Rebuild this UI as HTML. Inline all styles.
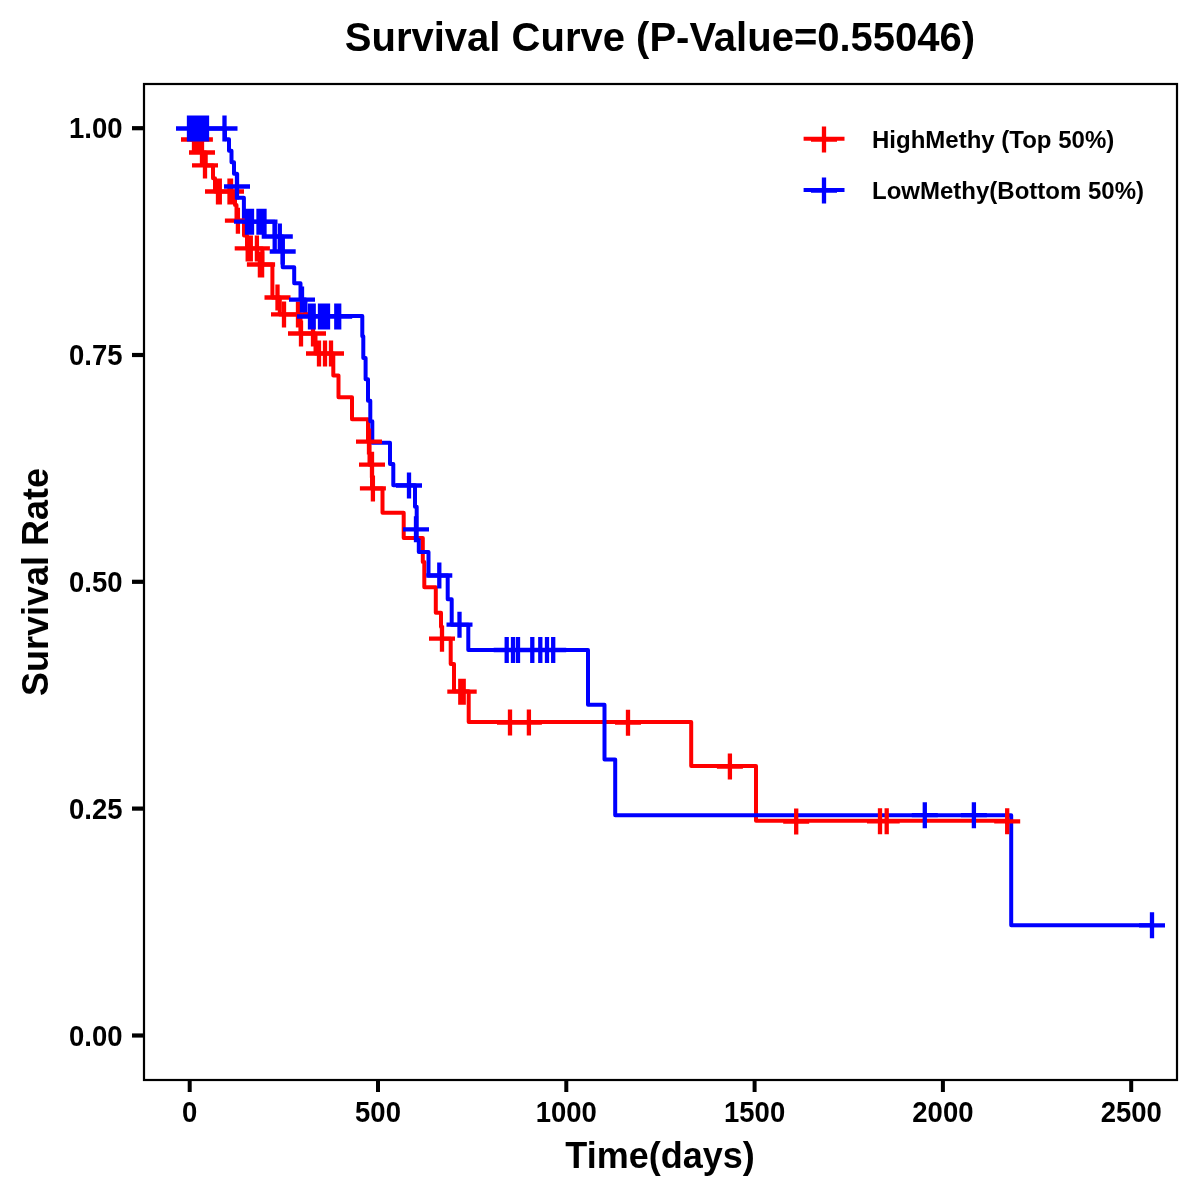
<!DOCTYPE html>
<html><head><meta charset="utf-8"><style>
html,body{margin:0;padding:0;background:#fff;width:1200px;height:1200px;overflow:hidden}
svg{display:block;will-change:transform}
text{font-family:"Liberation Sans", sans-serif;fill:#000}
</style></head><body>
<svg width="1200" height="1200" viewBox="0 0 1200 1200">
<rect width="1200" height="1200" fill="#fff"/>
<rect x="144" y="84" width="1033" height="996" fill="none" stroke="#000" stroke-width="2.2"/>
<line x1="132" y1="128.2" x2="144" y2="128.2" stroke="#000" stroke-width="4.2"/>
<text transform="translate(122.5,138.2) scale(1,1.065)" x="0" y="0" text-anchor="end" font-size="27.5" font-weight="bold">1.00</text>
<line x1="132" y1="355.0" x2="144" y2="355.0" stroke="#000" stroke-width="4.2"/>
<text transform="translate(122.5,365.0) scale(1,1.065)" x="0" y="0" text-anchor="end" font-size="27.5" font-weight="bold">0.75</text>
<line x1="132" y1="581.8" x2="144" y2="581.8" stroke="#000" stroke-width="4.2"/>
<text transform="translate(122.5,591.8) scale(1,1.065)" x="0" y="0" text-anchor="end" font-size="27.5" font-weight="bold">0.50</text>
<line x1="132" y1="808.6" x2="144" y2="808.6" stroke="#000" stroke-width="4.2"/>
<text transform="translate(122.5,818.6) scale(1,1.065)" x="0" y="0" text-anchor="end" font-size="27.5" font-weight="bold">0.25</text>
<line x1="132" y1="1035.5" x2="144" y2="1035.5" stroke="#000" stroke-width="4.2"/>
<text transform="translate(122.5,1045.5) scale(1,1.065)" x="0" y="0" text-anchor="end" font-size="27.5" font-weight="bold">0.00</text>
<line x1="189.7" y1="1080" x2="189.7" y2="1092" stroke="#000" stroke-width="4"/>
<text transform="translate(189.7,1121.8) scale(1,1.065)" x="0" y="0" text-anchor="middle" font-size="27.5" font-weight="bold">0</text>
<line x1="378.0" y1="1080" x2="378.0" y2="1092" stroke="#000" stroke-width="4"/>
<text transform="translate(378.0,1121.8) scale(1,1.065)" x="0" y="0" text-anchor="middle" font-size="27.5" font-weight="bold">500</text>
<line x1="566.3" y1="1080" x2="566.3" y2="1092" stroke="#000" stroke-width="4"/>
<text transform="translate(566.3,1121.8) scale(1,1.065)" x="0" y="0" text-anchor="middle" font-size="27.5" font-weight="bold">1000</text>
<line x1="754.6" y1="1080" x2="754.6" y2="1092" stroke="#000" stroke-width="4"/>
<text transform="translate(754.6,1121.8) scale(1,1.065)" x="0" y="0" text-anchor="middle" font-size="27.5" font-weight="bold">1500</text>
<line x1="942.9" y1="1080" x2="942.9" y2="1092" stroke="#000" stroke-width="4"/>
<text transform="translate(942.9,1121.8) scale(1,1.065)" x="0" y="0" text-anchor="middle" font-size="27.5" font-weight="bold">2000</text>
<line x1="1131.2" y1="1080" x2="1131.2" y2="1092" stroke="#000" stroke-width="4"/>
<text transform="translate(1131.2,1121.8) scale(1,1.065)" x="0" y="0" text-anchor="middle" font-size="27.5" font-weight="bold">2500</text>
<text x="660" y="51" text-anchor="middle" font-size="40" font-weight="bold">Survival Curve (P-Value=0.55046)</text>
<text x="660" y="1168" text-anchor="middle" font-size="36" font-weight="bold">Time(days)</text>
<text transform="translate(47.8,582) rotate(-90)" x="0" y="0" text-anchor="middle" font-size="36" font-weight="bold">Survival Rate</text>
<path d="M803.6,138.7H844.5" stroke="#FF0000" stroke-width="4"/>
<path d="M811,139.6H837M824,126.6V152.6" stroke="#FF0000" stroke-width="4.3"/>
<path d="M803.6,190H844.5" stroke="#0000FF" stroke-width="4"/>
<path d="M811,190.5H837M824,177.5V203.5" stroke="#0000FF" stroke-width="4.3"/>
<text x="872" y="148" font-size="24" font-weight="bold">HighMethy (Top 50%)</text>
<text x="872" y="199" font-size="24" font-weight="bold">LowMethy(Bottom 50%)</text>
<path d="M189.7,128.5H191V139.5H202V152.5H205.7V165.4H213V178.3H215V191.5H235V205H236.5V220.7H244V235.6H247V248.4H262.4V264.5H272.4V297.5H279.8V314.4H300.5V333.5H315.5V353.5H333.3V375.4H338.5V397.3H352V419.3H368V441.6H369.5V464.7H372V488.5H382.5V512.7H403.7V538H422.8V562H424.3V587.3H435.8V612.7H441V626.7H442V638.7H450.7V664H454V691.3H468.7V722H691.2V766.1H756V820.7H1007.2" fill="none" stroke="#FF0000" stroke-width="4.0" stroke-linejoin="round"/>
<path d="M189.7,128.5H225V139.3H229V150.7H231.5V162.3H234V173.7H237V197.7H243.9V221.7H274.7V236.5H282.7V267.3H294.2V283.3H300.5V299.5H305.5V316H362.3V336.3H363.3V358H365.6V379.3H368V400.7H370.3V421.3H372.3V442.7H390V464H393.3V485.3H415V506.7H416.7V540H418.8V552H428.5V575.6H447.7V599.3H451.7V624.7H468.3V650H588V704.8H604.5V759.5H615.2V815.2H1011.2V925.3H1152" fill="none" stroke="#0000FF" stroke-width="4.0" stroke-linejoin="round"/>
<path d="M181,139.5H207M194,126.5V152.5M184,139.5H210M197,126.5V152.5M186.9,139.5H212.9M199.9,126.5V152.5M189,152.5H215M202,139.5V165.5M192,165.4H218M205,152.4V178.4M205,191.5H231M218,178.5V204.5M206.8,191.5H232.8M219.8,178.5V204.5M216.5,191.5H242.5M229.5,178.5V204.5M218,191.5H244M231,178.5V204.5M224.9,220.7H250.9M237.9,207.7V233.7M234.7,248.4H260.7M247.7,235.4V261.4M237.8,248.4H263.8M250.8,235.4V261.4M243.89999999999998,248.4H269.9M256.9,235.4V261.4M246.89999999999998,264.5H272.9M259.9,251.5V277.5M249.10000000000002,264.5H275.1M262.1,251.5V277.5M264.5,297.5H290.5M277.5,284.5V310.5M271,314.4H297M284,301.4V327.4M285,314.4H311M298,301.4V327.4M288,333.5H314M301,320.5V346.5M300,333.5H326M313,320.5V346.5M306,353.5H332M319,340.5V366.5M312,353.5H338M325,340.5V366.5M318,353.5H344M331,340.5V366.5M356,441.6H382M369,428.6V454.6M359,464.7H385M372,451.7V477.7M359.9,488.4H385.9M372.9,475.4V501.4M429,638.7H455M442,625.7V651.7M447.3,691.7H473.3M460.3,678.7V704.7M449,691.7H475M462,678.7V704.7M450.7,691.7H476.7M463.7,678.7V704.7M497,722.5H523M510,709.5V735.5M515.9,722.5H541.9M528.9,709.5V735.5M615,722.7H641M628,709.7V735.7M716.9,766.5H742.9M729.9,753.5V779.5M783.2,821.5H809.2M796.2,808.5V834.5M867,821.3H893M880,808.3V834.3M873.7,821.3H899.7M886.7,808.3V834.3M994.2,821.3H1020.2M1007.2,808.3V834.3" fill="none" stroke="#FF0000" stroke-width="4.3"/>
<path d="M176,128.5H202M189,115.5V141.5M179,128.5H205M192,115.5V141.5M182,128.5H208M195,115.5V141.5M185,128.5H211M198,115.5V141.5M188,128.5H214M201,115.5V141.5M191,128.5H217M204,115.5V141.5M194,128.5H220M207,115.5V141.5M211.5,128.5H237.5M224.5,115.5V141.5M224,186.5H250M237,173.5V199.5M234,221.7H260M247,208.7V234.7M236.5,221.7H262.5M249.5,208.7V234.7M239,221.7H265M252,208.7V234.7M245.5,221.7H271.5M258.5,208.7V234.7M248.5,221.7H274.5M261.5,208.7V234.7M251.5,221.7H277.5M264.5,208.7V234.7M261.7,236.5H287.7M274.7,223.5V249.5M266.8,236.5H292.8M279.8,223.5V249.5M269.7,251.5H295.7M282.7,238.5V264.5M289,299.6H315M302,286.6V312.6M297,316.5H323M310,303.5V329.5M300.7,316.5H326.7M313.7,303.5V329.5M307,316.5H333M320,303.5V329.5M310,316.5H336M323,303.5V329.5M312,316.5H338M325,303.5V329.5M315,316.5H341M328,303.5V329.5M323.3,316.5H349.3M336.3,303.5V329.5M326.2,316.5H352.2M339.2,303.5V329.5M396,485.5H422M409,472.5V498.5M403,529.3H429M416,516.3V542.3M426.3,575.5H452.3M439.3,562.5V588.5M446.5,624.7H472.5M459.5,611.7V637.7M493.7,650H519.7M506.7,637V663M500,650H526M513,637V663M505,650H531M518,637V663M519.3,650H545.3M532.3,637V663M527.3,650H553.3M540.3,637V663M534,650H560M547,637V663M540.2,650H566.2M553.2,637V663M911.8,815.2H937.8M924.8,802.2V828.2M960.9,815.2H986.9M973.9,802.2V828.2M1139,925.3H1165M1152,912.3V938.3" fill="none" stroke="#0000FF" stroke-width="4.3"/>
</svg>
</body></html>
